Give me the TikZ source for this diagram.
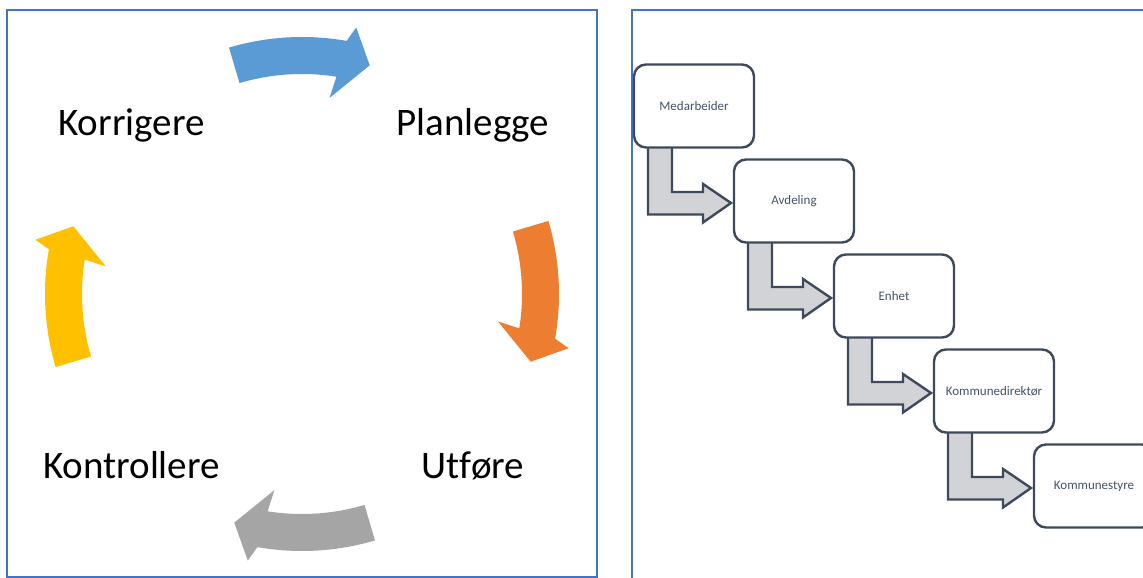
\documentclass[tikz,border=0pt]{standalone}
\usepackage{fontspec}
\setmainfont{Carlito}[Ligatures=NoCommon]
\usetikzlibrary{backgrounds}
\definecolor{cycblue}{HTML}{5B9BD5}
\definecolor{cycorange}{HTML}{ED7D31}
\definecolor{cycgray}{HTML}{A5A5A5}
\definecolor{cycyellow}{HTML}{FFC000}
\definecolor{slate}{HTML}{3E4A5B}
\definecolor{slatetext}{HTML}{44546A}
\definecolor{bentgray}{HTML}{D1D3D6}
\definecolor{framebl}{HTML}{4472C4}
\tikzset{
  box/.style={draw=slate, line width=2.4pt, rounded corners=12pt, fill=white,
    minimum width=120pt, minimum height=83pt, text=slatetext,
    font=\fontsize{13}{15}\selectfont},
  bent/.style={draw=slate, line width=2.4pt, fill=bentgray},
  frame/.style={draw=framebl, line width=2pt},
  word/.style={font=\fontsize{39}{45}\selectfont, anchor=base}
}
\begin{document}
\begin{tikzpicture}[x=1pt,y=1pt]
  \useasboundingbox (0,0) rectangle (1143,578);
  \clip (0,0) rectangle (1143,578);
  % panels
  \draw[frame] (7,1) rectangle (597,567.5);
  \draw[frame] (632,-5) -- (632,567.5) -- (1150,567.5);
  % cycle
  \foreach \t/\c in {106.5/cycblue, 16.5/cycorange, -73.5/cycgray, -163.5/cycyellow}
    \fill[\c, shift={(302,284)}] (\t:257) arc[start angle=\t, end angle=\t-26.5, radius=257pt]
      -- ({\t-28}:272) -- ({\t-33}:238.5) -- ({\t-24.5}:198) -- ({\t-25.5}:220)
      arc[start angle=\t-25.5, end angle=\t, radius=220pt] -- cycle;
  \node[word] (korr) at (131.5,442) {Korrigere};
  \node[word] (plan) at (473,442) {Planlegge};
  \node[word] (kont) at (131.5,99) {Kontrollere};
  \node[word] (utf) at (473,99) {Utføre};
  % steps
  \foreach \name [count=\i from 0] in {Medarbeider,Avdeling,Enhet,Kommunedirektør,Kommunestyre}
    \node[box] (b\i) at ({694+100*\i},{472-95*\i}) {\name};
  \begin{scope}[on background layer]
    \foreach \i in {0,...,3}
      \draw[bent, shift={(b\i.center)}] (-46,-35) -- (-46,-108.5) -- (9,-108.5) -- (9,-116.5)
        -- (37,-97) -- (9,-78) -- (9,-86) -- (-22,-86) -- (-22,-35) -- cycle;
  \end{scope}
\end{tikzpicture}
\end{document}
